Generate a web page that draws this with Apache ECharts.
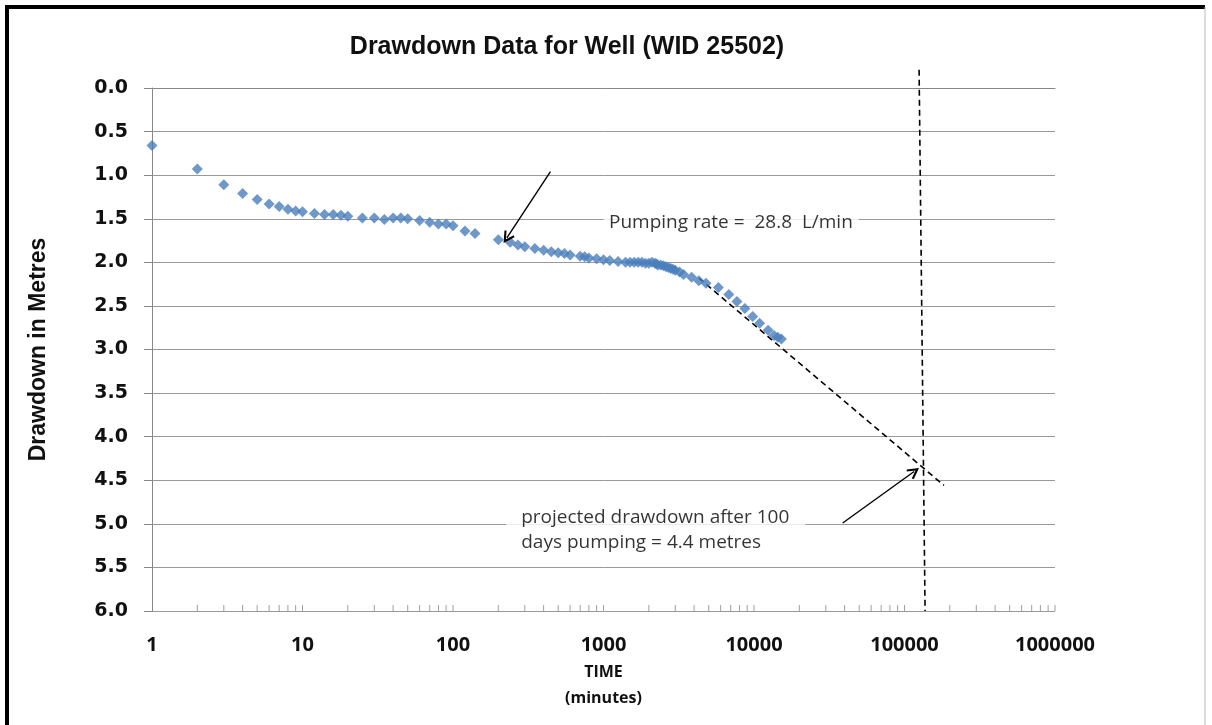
<!DOCTYPE html>
<html><head><meta charset="utf-8">
<script src="https://cdn.jsdelivr.net/npm/echarts@6/dist/echarts.min.js"></script>
<style>html,body{margin:0;padding:0;background:#fff}#c{width:1212px;height:725px}</style>
</head><body><div id="c"></div>
<script>
// ---- data ----
const timeMin = [1,2,3,4,5,6,7,8,9,10,12,14,16,18,20,25,30,35,40,45,50,60,70,80,90,100,120,140,
  200,240,270,300,350,400,450,500,550,600,700,750,800,900,1000,1100,1250,1400,1500,1600,1700,1800,1900,
  2000,2100,2200,2250,2300,2400,2500,2600,2700,2800,2900,3000,3200,3400,3850,4300,4800,5800,6800,7700,
  8700,9800,10900,12400,13600,14400,15200];
const drawdown = [0.66,0.93,1.11,1.21,1.28,1.33,1.36,1.39,1.41,1.42,1.44,1.45,1.45,1.46,1.47,1.49,1.49,1.51,1.49,1.49,1.50,1.52,1.54,1.56,1.56,1.58,1.64,1.67,
  1.74,1.77,1.80,1.82,1.84,1.86,1.88,1.89,1.90,1.915,1.93,1.935,1.95,1.96,1.97,1.98,1.99,2.00,2.00,2.00,2.00,2.00,2.01,
  2.01,2.00,2.01,2.02,2.03,2.03,2.04,2.05,2.06,2.07,2.08,2.09,2.11,2.14,2.17,2.21,2.24,2.29,2.37,2.45,
  2.53,2.62,2.70,2.78,2.84,2.86,2.88];
const projTime = [4300, 183000];
const projDrawdown = [2.18, 4.56];
const markerTime = [125000, 137000];      // 100 days line
const markerDrawdown = [-0.21, 6.0];
const arrowPumpFrom = [444, 0.96], arrowPumpTo = [228, 1.72];
const arrowProjFrom = [38850, 4.99], arrowProjTo = [115900, 4.40];
const notePump = {at: [1000, 1.54], text: 'Pumping rate =  28.8  L/min'};
const noteProj = {at: [224, 5.07], text: 'projected drawdown after 100\ndays pumping = 4.4 metres'};
const xTickLabels = ['1','10','100','1000','10000','100000','1000000'];
const yMin = 0, yMax = 6, yStep = 0.5;
const title = 'Drawdown Data for Well (WID 25502)';

// minor ticks of the log axis (2..9 per decade)
const minorTicks = [];
for (let d = 0; d < 6; d++) for (let m = 2; m <= 10; m++) minorTicks.push([m * Math.pow(10, d), yMax]);

const chevron = 'path://M5,0 L10,9 L8.6,10 L5,3.6 L1.4,10 L0,9 Z';
const chart = echarts.init(document.getElementById('c'));
chart.setOption({
  animation: false,
  backgroundColor: '#fff',
  title: {text: title, left: 562, top: 30, textAlign: 'center',
    textStyle: {fontFamily: 'Liberation Sans', fontWeight: 'bold', fontSize: 25, color: '#111'}},
  grid: {left: 152, right: 157, top: 88, bottom: 114, containLabel: false},
  graphic: [
    {type: 'polyline', shape: {points: [[7, 725], [7, 7], [1205, 7]]}, style: {stroke: '#000', lineWidth: 4, fill: null}, silent: true},
    {type: 'line', shape: {x1: 1205, y1: 7, x2: 1205, y2: 725}, style: {stroke: '#bbb', lineWidth: 1}, silent: true}
  ],
  xAxis: {
    type: 'log', logBase: 10, min: 1, max: 1000000,
    axisLine: {show: true, lineStyle: {color: '#888', width: 1}},
    axisTick: {show: false},
    splitLine: {show: false},
    axisLabel: {margin: 24, fontFamily: 'Open Sans', fontWeight: 'bold', fontSize: 20, color: '#111',
      formatter: v => xTickLabels[Math.round(Math.log10(v))] ?? ''},
    name: 'TIME\n(minutes)', nameLocation: 'middle', nameGap: 37,
    nameTextStyle: {fontFamily: 'Open Sans', fontWeight: 'bold', fontSize: 16, color: '#111', lineHeight: 26}
  },
  yAxis: {
    type: 'value', inverse: true, min: yMin, max: yMax, interval: yStep,
    axisLine: {show: true, lineStyle: {color: '#888', width: 1}},
    axisTick: {show: true, inside: false, length: 8, lineStyle: {color: '#888'}},
    splitLine: {show: true, lineStyle: {color: '#999', width: 1}},
    axisLabel: {margin: 24, fontFamily: 'DejaVu Sans', fontWeight: 'bold', fontSize: 19, color: '#111',
      formatter: v => v.toFixed(1)},
    name: 'Drawdown in Metres', nameLocation: 'middle', nameRotate: 90, nameGap: 102,
    nameTextStyle: {fontFamily: 'Liberation Sans', fontWeight: 'bold', fontSize: 23, color: '#111'}
  },
  series: [
    {type: 'scatter', name: 'ticks', data: minorTicks, symbol: 'rect', symbolSize: [1, 6], symbolOffset: [0, -3],
      itemStyle: {color: '#888'}, silent: true, z: 1},
    {type: 'line', name: 'projection', data: projTime.map((t, i) => [t, projDrawdown[i]]), symbol: 'none',
      lineStyle: {color: '#000', width: 1.6, type: [6, 4]}, silent: true, z: 3,
      markLine: {silent: true, symbol: ['none', chevron], symbolSize: [12, 12], label: {show: false},
        lineStyle: {color: '#000', width: 1.4, type: 'solid'},
        data: [[{coord: arrowPumpFrom}, {coord: arrowPumpTo}], [{coord: arrowProjFrom}, {coord: arrowProjTo}]]}},
    {type: 'line', name: 'marker', data: markerTime.map((t, i) => [t, markerDrawdown[i]]), symbol: 'none', clip: false,
      lineStyle: {color: '#000', width: 1.6, type: [6, 4]}, silent: true, z: 3},
    {type: 'scatter', name: 'drawdown', data: timeMin.map((t, i) => [t, drawdown[i]]), symbol: 'diamond', symbolSize: 11,
      itemStyle: {color: '#4A7EBB'}, z: 4},
    {type: 'scatter', name: 'notes', symbol: 'circle', symbolSize: 1, silent: true, z: 2,
      itemStyle: {color: 'rgba(0,0,0,0)'},
      data: [
        {value: notePump.at, label: {show: true, formatter: notePump.text, position: 'right', distance: 0,
          padding: [3, 6, 3, 5], backgroundColor: '#fff', fontFamily: 'Open Sans', fontSize: 19, color: '#000'}},
        {value: noteProj.at, label: {show: true, formatter: noteProj.text, position: 'right', distance: 0,
          padding: [2, 16, 2, 15], lineHeight: 25, backgroundColor: '#fff', fontFamily: 'Open Sans', fontSize: 19, color: '#000'}}
      ]}
  ]
});
</script></body></html>
